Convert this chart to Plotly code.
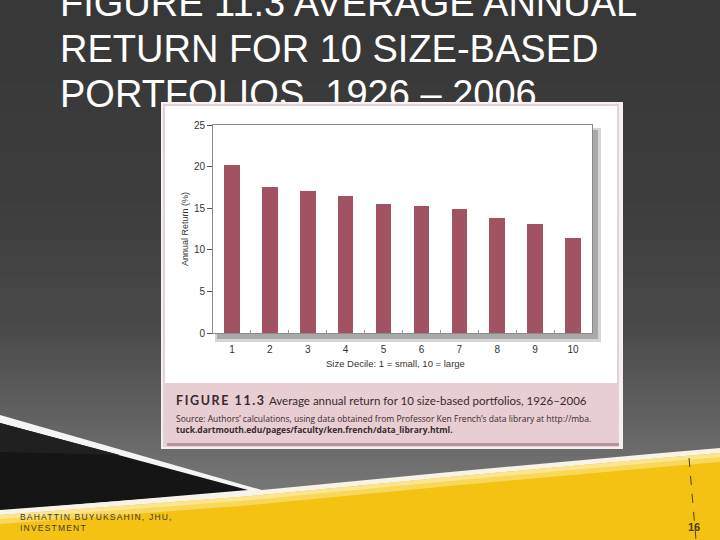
import plotly.graph_objects as go

# ---------------- data ----------------
deciles = [1, 2, 3, 4, 5, 6, 7, 8, 9, 10]
returns = [20.2, 17.56, 17.08, 16.48, 15.52, 15.28, 14.92, 13.84, 13.16, 11.4]
x_tick_labels = ["1", "2", "3", "4", "5", "6", "7", "8", "9", "10"]
y_ticks = [0, 5, 10, 15, 20, 25]
title_lines = ["FIGURE 11.3 AVERAGE ANNUAL", "RETURN FOR 10 SIZE-BASED", "PORTFOLIOS, 1926 – 2006"]
y_title = "Annual Return (%)"
x_title = "Size Decile: 1 = small, 10 = large"
caption_label = "FIGURE 11.3"
caption_text = "Average annual return for 10 size-based portfolios, 1926–2006"
source_line1 = "Source: Authors’ calculations, using data obtained from Professor Ken French’s data library at http://mba."
source_line2 = "tuck.dartmouth.edu/pages/faculty/ken.french/data_library.html."
footer_lines = ["BAHATTIN BUYUKSAHIN, JHU,", "INVESTMENT"]
page_number = "16"

W, H = 720, 540


def X(p):
    return p / W


def Y(p):
    return 1 - p / H


shapes = []


def rect(x0, y0, x1, y1, color, layer="below"):
    shapes.append(dict(type="rect", xref="paper", yref="paper",
                       x0=X(x0), x1=X(x1), y0=Y(y1), y1=Y(y0),
                       fillcolor=color, line=dict(width=0), layer=layer))


def poly(pts, color, layer="below"):
    path = "M " + " L ".join(f"{X(a):.5f},{Y(b):.5f}" for a, b in pts) + " Z"
    shapes.append(dict(type="path", xref="paper", yref="paper", path=path,
                       fillcolor=color, line=dict(width=0), layer=layer))


# ---- slide background (vertical gradient in overlapping bands) ----
grad = [(0, 0x37), (200, 0x3d), (330, 0x4a), (420, 0x62), (480, 0x74), (540, 0x80)]


def grey_at(y):
    for (ya, ga), (yb, gb) in zip(grad[:-1], grad[1:]):
        if ya <= y <= yb:
            t = (y - ya) / (yb - ya)
            return int(round(ga + t * (gb - ga)))
    return grad[-1][1]


for i in range(0, H, 6):
    g = grey_at(i + 3)
    rect(0, i, W, min(i + 7, H), f"rgb({g},{g},{g})")

# ---- black wedge with white border ----
poly([(0, 415), (272, 493), (0, 515)], "#f4f4f4")
poly([(0, 423), (248, 490), (0, 511)], "#151515")
poly([(0, 423), (120, 455), (0, 452)], "#202020")

# ---- white stripe + yellow wave ----
edge = [(0, 515), (240, 497), (450, 477), (650, 459), (720, 453)]
white_edge = [(x, y - 5) for x, y in edge]
poly(white_edge + [(720, 540), (0, 540)], "#f7f3e6")
poly(edge + [(720, 540), (0, 540)], "#f3c212")
poly(edge + [(x, y + 9) for x, y in reversed(edge)], "#f8d75a")
poly(edge + [(x, y + 4) for x, y in reversed(edge)], "#fbe590")

# ---- page-number dashed line ----
shapes.append(dict(type="line", xref="paper", yref="paper",
                   x0=X(689), y0=Y(458), x1=X(696), y1=Y(540),
                   line=dict(color="#4a4020", width=1, dash="dash"), layer="below"))

# ---- figure panel ----
rect(161, 102, 623, 449, "#f6f0f1")
rect(163, 104, 619, 447, "#e2d2d6")
rect(165, 106, 617, 383, "#ffffff")
rect(165, 383, 619, 443, "#e8cdd3")
rect(167, 443, 619, 446, "#b8939d")

# plot-area drop shadow and white plot area
rect(215, 128, 601, 342, "#d6d6d6")
rect(217, 130, 598, 339, "#a9a9a9")
rect(213, 125, 592, 333, "#ffffff")

# strip of the panel drawn above the title so the panel overlaps it
rect(161, 102, 623, 118, "#f6f0f1", layer="above")
rect(163, 104, 619, 118, "#e2d2d6", layer="above")
rect(165, 106, 617, 118, "#ffffff", layer="above")

fig = go.Figure()

fig.add_trace(go.Bar(
    x=deciles, y=returns, width=0.41,
    marker=dict(color="#a15263", line=dict(width=0)),
    xaxis="x", yaxis="y", hoverinfo="skip"))

# slide title as text trace on a full-page overlay axis (so the panel can overlap it)
fig.add_trace(go.Scatter(
    x=[60, 60, 60], y=[6, 52, 97], text=title_lines, mode="text",
    textposition="middle right",
    textfont=dict(size=38, color="#ffffff", family="Liberation Sans, Arial"),
    xaxis="x2", yaxis="y2", hoverinfo="skip", cliponaxis=False))


def ann(text, x, y, size, color, family, xanchor="left", angle=0):
    return dict(text=text, x=X(x), y=Y(y), xref="paper", yref="paper",
                xanchor=xanchor, yanchor="middle", textangle=angle,
                showarrow=False, font=dict(size=size, color=color, family=family))


SANS = "Liberation Sans, Arial"
annotations = [
    ann(y_title, 185, 229, 9, "#333333", SANS, xanchor="center", angle=-90),
    ann(x_title, 395, 363, 9.5, "#333333", SANS, xanchor="center"),
    ann(f"<b><span style='letter-spacing:1.6px'>{caption_label}</span></b>",
        174, 400, 12.5, "#3a2a2e", "Lato"),
    ann(caption_text, 267, 400, 11.5, "#3a2a2e", "Lato"),
    ann(source_line1, 174, 418, 8.5, "#3a2a2e", "Open Sans"),
    ann(f"<b>{source_line2}</b>", 174, 429, 8.5, "#3a2a2e", "Open Sans"),
    ann(f"<span style='letter-spacing:1.2px'>{footer_lines[0]}</span>",
        18, 517, 8.5, "#3c3a30", SANS),
    ann(f"<span style='letter-spacing:1.2px'>{footer_lines[1]}</span>",
        18, 528, 8.5, "#3c3a30", SANS),
    ann(f"<b>{page_number}</b>", 694, 527, 11, "#4a4020", SANS, xanchor="center"),
]

minor_ticks = [d + 0.5 for d in deciles[:-1]]

fig.update_layout(
    template="none",
    width=W, height=H, autosize=False,
    margin=dict(l=0, r=0, t=0, b=0, pad=0, autoexpand=False),
    paper_bgcolor="#3a3a3a",
    plot_bgcolor="rgba(0,0,0,0)",
    showlegend=False,
    shapes=shapes,
    annotations=annotations,
    bargap=0,
    xaxis=dict(domain=[X(213), X(592)], range=[0.5, 10.5], anchor="y",
               automargin=False,
               tickmode="array", tickvals=deciles, ticktext=x_tick_labels,
               ticks="", ticklabelstandoff=7,
               showline=True, mirror=True, linecolor="#8a8a8a",
               linewidth=1, showgrid=False, zeroline=False,
               tickfont=dict(size=10, color="#333333", family=SANS),
               minor=dict(tickvals=minor_ticks, ticks="inside", ticklen=3,
                          tickcolor="#9a9a9a", showgrid=False),
               fixedrange=True),
    yaxis=dict(domain=[Y(333), Y(125)], range=[0, 25], anchor="x",
               automargin=False,
               tickmode="array", tickvals=y_ticks,
               ticks="outside", ticklen=5, tickcolor="#555555",
               showline=True, mirror=True, linecolor="#8a8a8a", linewidth=1,
               showgrid=False, zeroline=False,
               tickfont=dict(size=10, color="#333333", family=SANS),
               fixedrange=True),
    xaxis2=dict(domain=[0, 1], range=[0, W], anchor="y2", visible=False,
                automargin=False, fixedrange=True),
    yaxis2=dict(domain=[0, 1], range=[H, 0], anchor="x2", visible=False,
                automargin=False, fixedrange=True),
)

fig.write_html(
    "out.html",
    config={"displayModeBar": False, "staticPlot": True, "responsive": False},
    post_script=("document.documentElement.style.margin='0px';"
                 "document.documentElement.style.overflow='hidden';"
                 "document.body.style.margin='0px';"
                 "document.body.style.overflow='hidden';"),
)
